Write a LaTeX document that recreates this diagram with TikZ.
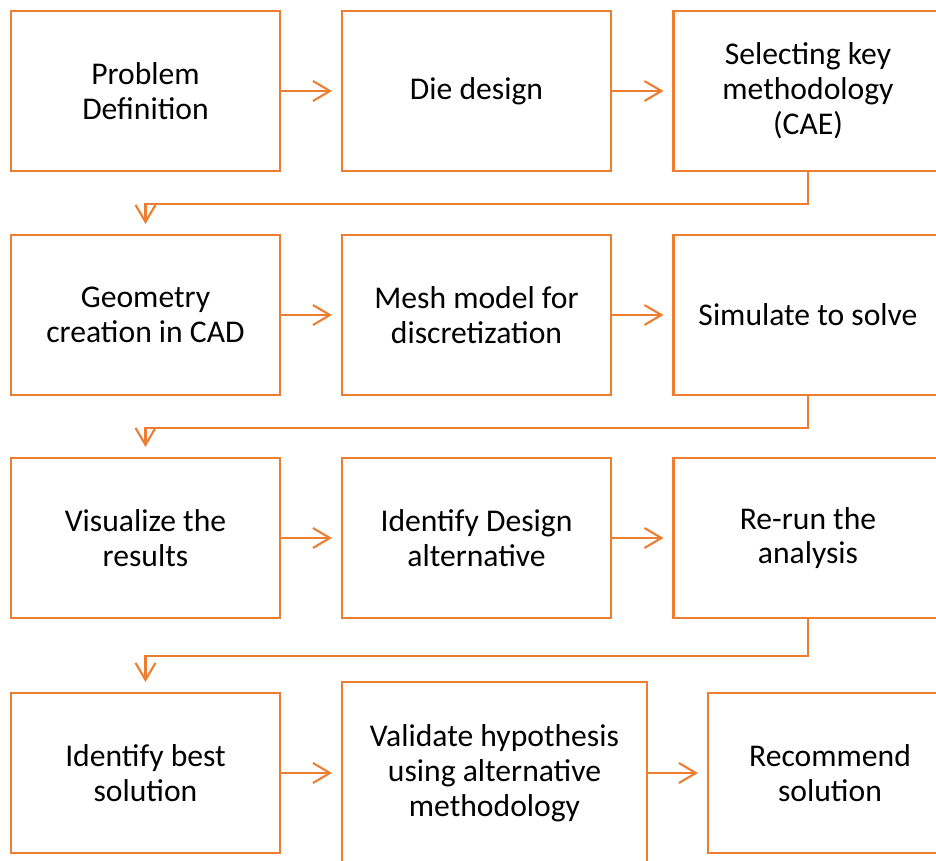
\documentclass[tikz,border=0pt]{standalone}
\usepackage{fontspec}
\setmainfont{Carlito}
\usetikzlibrary{arrows.meta}
\definecolor{boxorange}{RGB}{237,125,49}
\tikzset{
  stage/.style={draw=boxorange, line width=1.2pt, align=center, inner sep=2pt,
    minimum width=5.38cm, minimum height=3.2cm, font=\fontsize{18}{19.8}\selectfont},
  flow/.style={draw=boxorange, line width=1.2pt, -{Straight Barb[length=3.4mm,width=4mm]},
    shorten >=0.18cm}
}
\begin{document}
\begin{tikzpicture}[x=0.02cm,y=-0.02cm]
\useasboundingbox (0,0) rectangle (936,861);
\node (problem) [stage] at (145.5,91) {Problem\\Definition};
\node (die) [stage] at (476.5,91) {Die design};
\node (selecting) [stage] at (808,91) {Selecting key\\methodology\\(CAE)};
\node (geometry) [stage] at (145.5,315) {Geometry\\creation in CAD};
\node (mesh) [stage] at (476.5,315) {Mesh model for\\discretization};
\node (simulate) [stage] at (808,315) {Simulate to solve};
\node (visualize) [stage] at (145.5,538) {Visualize the\\results};
\node (identify) [stage] at (476.5,538) {Identify Design\\alternative};
\node (rerun) [stage] at (808,538) {Re-run the\\analysis};
\node (best) [stage] at (145.5,773) {Identify best\\solution};
\node (validate) [stage,minimum width=6.1cm,minimum height=3.64cm] at (494.5,773)
	{Validate hypothesis\\using alternative\\methodology};
\node (recommend) [stage,minimum width=4.88cm] at (830,773) {Recommend\\solution};
\draw [flow] (problem) -- (die);
\draw [flow] (die) -- (selecting);
\draw [flow,shorten >=0.2cm] (selecting.south) -- ++(0,32) -| (geometry.north);
\draw [flow] (geometry) -- (mesh);
\draw [flow] (mesh) -- (simulate);
\draw [flow,shorten >=0.2cm] (simulate.south) -- ++(0,32) -| (visualize.north);
\draw [flow] (visualize) -- (identify);
\draw [flow] (identify) -- (rerun);
\draw [flow,shorten >=0.2cm] (rerun.south) -- ++(0,37) -| (best.north);
\draw [flow] (best) -- (validate);
\draw [flow] (validate) -- (recommend);
\end{tikzpicture}
\end{document}
